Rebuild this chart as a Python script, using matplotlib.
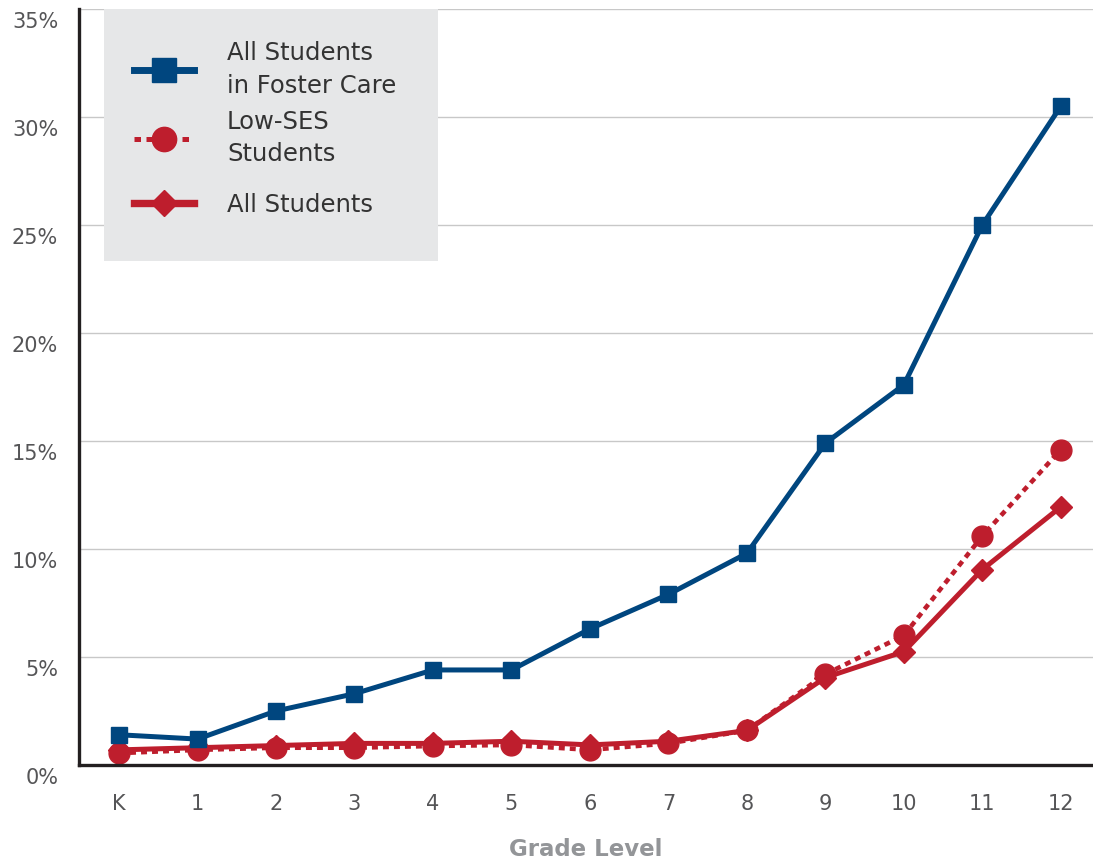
import matplotlib
matplotlib.use("Agg")
import matplotlib.pyplot as plt
from matplotlib.patches import Rectangle
from matplotlib.ticker import FuncFormatter
from matplotlib.transforms import ScaledTranslation

# Dropout / grade-level rates (%) by grade
grades = ["K", "1", "2", "3", "4", "5", "6", "7", "8", "9", "10", "11", "12"]
foster_care = [1.4, 1.2, 2.5, 3.3, 4.4, 4.4, 6.3, 7.9, 9.8, 14.9, 17.6, 25.0, 30.5]
low_ses = [0.55, 0.7, 0.8, 0.8, 0.88, 0.93, 0.7, 1.0, 1.6, 4.2, 6.0, 10.6, 14.6]
all_students = [0.7, 0.8, 0.9, 1.0, 1.0, 1.1, 0.93, 1.1, 1.6, 4.05, 5.25, 9.05, 11.95]
y_ticks = [0, 5, 10, 15, 20, 25, 30, 35]

BLUE = "#00467f"
RED = "#be1e2d"
LEGEND_BG = "#e6e7e8"

plt.rcParams["font.family"] = ["DejaVu Sans"]

fig = plt.figure(figsize=(10.93, 8.63), dpi=100)
ax = fig.add_axes([79 / 1093, 1 - 765 / 863, 1 - 79 / 1093, (765 - 9) / 863])

x = list(range(len(grades)))

h_fc, = ax.plot(x, foster_care, color=BLUE, lw=3.6, marker="s", ms=11.5,
                label="All Students\nin Foster Care", zorder=4)
h_ls, = ax.plot(x, low_ses, color=RED, lw=3.3, ls=(0, (1.3, 1.1)), marker="o", ms=15,
                label="Low-SES\nStudents", zorder=3)
h_all, = ax.plot(x, all_students, color=RED, lw=3.6, marker="D", ms=11.5,
                 label="All Students", zorder=3.5)

ax.set_xlim(-0.51, 12.41)
ax.set_ylim(0, 35)
ax.set_xticks(x)
ax.set_xticklabels(grades)
ax.set_yticks(y_ticks)
ax.yaxis.set_major_formatter(FuncFormatter(lambda v, p: f"{int(v)}%"))

ax.grid(axis="y", color="#c8c8c8", lw=1.0)
ax.set_axisbelow(True)
for side in ("top", "right"):
    ax.spines[side].set_visible(False)
for side in ("left", "bottom"):
    ax.spines[side].set_color("#231f20")
    ax.spines[side].set_linewidth(2.4)
    ax.spines[side].set_zorder(5)

ax.tick_params(axis="both", length=0, labelsize=15, labelcolor="#555557")
ax.tick_params(axis="x", pad=21)
ax.tick_params(axis="y", pad=15)
shift = ScaledTranslation(0, -0.11, fig.dpi_scale_trans)
for lbl in ax.get_yticklabels():
    lbl.set_transform(lbl.get_transform() + shift)

ax.set_xlabel("Grade Level", fontsize=16.5, fontweight="bold", color="#939598",
              labelpad=17)

# Legend panel
ax.add_patch(Rectangle(((104 - 79) / 1014, (765 - 261) / 756),
                       (438 - 104) / 1014, (261 - 9) / 756,
                       transform=ax.transAxes, facecolor=LEGEND_BG,
                       edgecolor="none", zorder=1))

leg_kw = dict(frameon=False, fontsize=17.5, handlelength=2.47, handletextpad=1.36,
              borderpad=0, borderaxespad=0)
x_leg = (134 - 79) / 1014
leg_top = ax.legend(handles=[h_fc, h_ls], loc="upper left",
                    bbox_to_anchor=(x_leg, (765 - 41) / 756),
                    labelspacing=0.5, **leg_kw)
leg_bottom = ax.legend(handles=[h_all], loc="center left",
                       bbox_to_anchor=(x_leg, (765 - 205) / 756), **leg_kw)
for leg in (leg_top, leg_bottom):
    for t in leg.get_texts():
        t.set_color("#333333")
        t.set_linespacing(1.45)
    leg.set_zorder(6)

# Slightly bolder legend keys
key_fc, key_ls = leg_top.legend_handles
key_fc.set_markersize(17.5)
key_fc.set_linewidth(5.0)
key_ls.set_markersize(17.5)
key_ls.set_linewidth(3.6)
key_all = leg_bottom.legend_handles[0]
key_all.set_markersize(13)
key_all.set_linewidth(5.3)
ax.add_artist(leg_top)

fig.savefig("out.png", dpi=100)
